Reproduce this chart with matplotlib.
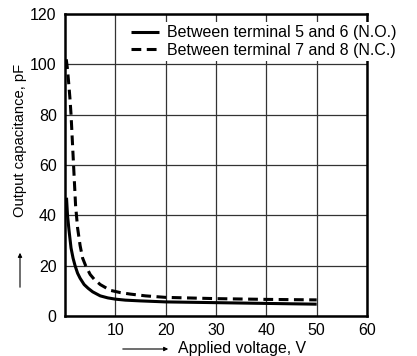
import matplotlib
matplotlib.use("Agg")
import matplotlib.pyplot as plt

plt.rcParams['font.family'] = ['Liberation Sans', 'DejaVu Sans']

# Data
no_v = [0.3, 0.5, 0.8, 1.2, 1.6, 2.0, 2.5, 3.0, 3.8, 4.6, 5.5, 7.0, 8.5, 10, 12, 15, 20, 30, 40, 50]
no_c = [47, 40, 34, 27, 23, 20, 17, 15, 12.5, 11, 9.6, 8.0, 7.2, 6.7, 6.3, 6.0, 5.6, 5.3, 5.0, 4.7]

nc_v = [0.25, 0.5, 0.8, 1.0, 1.2, 1.5, 1.7, 2.1, 2.5, 3.0, 3.5, 4.1, 5.0, 5.8, 7.0, 9.0, 11, 13, 16, 20, 30, 40, 50]
nc_c = [102, 98, 91, 86, 80, 68, 60, 44, 35, 28, 23, 20, 16.5, 14.6, 12.5, 10.2, 9.3, 8.7, 8.0, 7.4, 6.9, 6.6, 6.4]

labels = ["Between terminal 5 and 6 (N.O.)", "Between terminal 7 and 8 (N.C.)"]
xticks = [10, 20, 30, 40, 50, 60]
yticks = [0, 20, 40, 60, 80, 100, 120]

fig = plt.figure(figsize=(4.17, 3.56), dpi=100)
ax = fig.add_axes([65/417, 1-316/356, 302/417, 302/356])

ax.plot(no_v, no_c, color='black', lw=2.2, solid_capstyle='butt', label=labels[0])
ax.plot(nc_v, nc_c, color='black', lw=2.2, ls=(0, (3.2, 1.8)), label=labels[1])

ax.set_xlim(0, 60)
ax.set_ylim(0, 120)
ax.set_xticks(xticks)
ax.set_yticks(yticks)
ax.grid(True, color='#333333', lw=0.9)
ax.tick_params(length=0, labelsize=11.5, pad=5)
ax.tick_params(axis='y', pad=6)
for s in ax.spines.values():
    s.set_linewidth(1.8)
    s.set_zorder(3)

leg = ax.legend(loc='upper left', bbox_to_anchor=((128-65)/302, 1-8/302), frameon=True,
                fontsize=11.5, handlelength=1.75, handletextpad=0.5, labelspacing=0.17,
                borderpad=0.2, borderaxespad=0, fancybox=False)
leg.get_frame().set_edgecolor('none')
leg.get_frame().set_facecolor('white')
leg.get_frame().set_alpha(1)
leg.set_zorder(4)

# axis labels with arrows
fig.text(178/417, 1-349/356, "Applied voltage, V", fontsize=11.4, ha='left', va='center')
fig.patches.append(matplotlib.patches.FancyArrowPatch((120/417, 1-349/356), (171/417, 1-349/356),
                   transform=fig.transFigure, arrowstyle='-|>', mutation_scale=6, lw=0.8, color='black'))
fig.text(20/417, 1-140/356, "Output capacitance, pF", fontsize=10.6, rotation=90, ha='center', va='center')
fig.patches.append(matplotlib.patches.FancyArrowPatch((20/417, 1-290/356), (20/417, 1-250/356),
                   transform=fig.transFigure, arrowstyle='-|>', mutation_scale=6, lw=0.8, color='black'))

fig.savefig("out.png", dpi=100)
